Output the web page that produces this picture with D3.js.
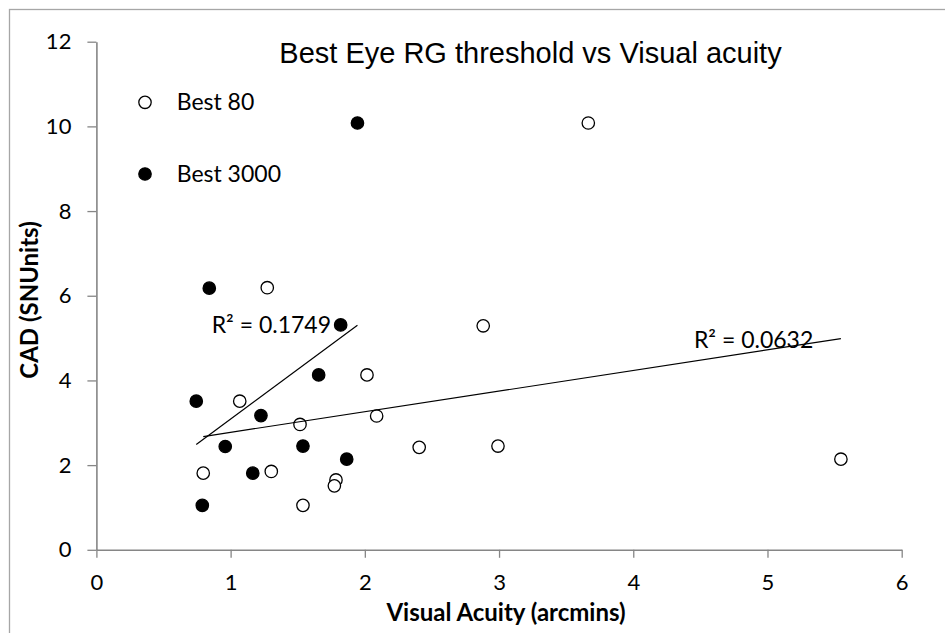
<!DOCTYPE html>
<html>
<head>
<meta charset="utf-8">
<script src="https://cdn.jsdelivr.net/npm/d3@7"></script>
<style>
  html, body { margin: 0; padding: 0; background: #fff; }
  svg { display: block; }
</style>
</head>
<body>
<svg id="chart" width="945" height="633"></svg>
<script>
// Best 80: visual acuity (arcmin) and chromatic threshold (CAD, SNU)
const best80Acuity = [3.665, 1.273, 2.882, 2.016, 1.068, 2.088, 1.517, 2.405, 2.992, 5.547, 0.796, 1.303, 1.785, 1.773, 1.539];
const best80CAD    = [10.08, 6.19, 5.29, 4.13, 3.51, 3.16, 2.96, 2.42, 2.45, 2.14, 1.81, 1.85, 1.65, 1.51, 1.05];

// Best 3000
const best3000Acuity = [1.945, 0.841, 1.820, 1.656, 0.744, 1.226, 0.960, 1.539, 1.865, 1.165, 0.789];
const best3000CAD    = [10.08, 6.18, 5.31, 4.13, 3.51, 3.17, 2.44, 2.45, 2.14, 1.81, 1.05];

const seriesNames = ["Best 80", "Best 3000"];
const rSquaredLabels = ["R² = 0.0632", "R² = 0.1749"];
const rSquaredAnchors = [[4.452, 4.773], [0.859, 5.12]]; // data-space text anchors

const xTicks = [0, 1, 2, 3, 4, 5, 6];
const yTicks = [0, 2, 4, 6, 8, 10, 12];

const title = "Best Eye RG threshold vs Visual acuity";
const xTitle = "Visual Acuity (arcmins)";
const yTitle = "CAD (SNUnits)";

const svg = d3.select("#chart");
const tickFont = "Lato, 'Open Sans', sans-serif";

// outer chart-area frame
svg.append("rect")
  .attr("x", 9.5).attr("y", 9.5)
  .attr("width", 960).attr("height", 660)
  .attr("fill", "#fff")
  .attr("stroke", "#a6a6a6")
  .attr("stroke-width", 1.3);

const x = d3.scaleLinear().domain([0, 6]).range([96.4, 901.7]);
const y = d3.scaleLinear().domain([0, 12]).range([549.8, 41.7]);

// axes
const xAxis = svg.append("g")
  .attr("transform", `translate(0,${y(0)})`)
  .call(d3.axisBottom(x).tickValues(xTicks).tickFormat(d3.format("d"))
    .tickSize(8).tickSizeOuter(0).tickPadding(17));
const yAxis = svg.append("g")
  .attr("transform", `translate(${x(0)},0)`)
  .call(d3.axisLeft(y).tickValues(yTicks).tickFormat(d3.format("d"))
    .tickSize(9).tickSizeOuter(0).tickPadding(16));

[xAxis, yAxis].forEach(g => {
  g.select(".domain").attr("stroke", "#868686").attr("stroke-width", 1.6);
  g.selectAll(".tick line").attr("stroke", "#868686").attr("stroke-width", 1.3);
  g.selectAll(".tick text")
    .attr("fill", "#000")
    .style("font-family", tickFont)
    .style("font-size", "22px");
});

// least-squares trend line over a series' own x range
function trend(xs, ys) {
  const mx = d3.mean(xs), my = d3.mean(ys);
  const sxy = d3.sum(xs, (v, i) => (v - mx) * (ys[i] - my));
  const sxx = d3.sum(xs, v => (v - mx) * (v - mx));
  const slope = sxy / sxx, icpt = my - slope * mx;
  const [x0, x1] = d3.extent(xs);
  return [[x0, icpt + slope * x0], [x1, icpt + slope * x1]];
}

const series = [
  { name: seriesNames[0], xs: best80Acuity, ys: best80CAD, fill: "#fff" },
  { name: seriesNames[1], xs: best3000Acuity, ys: best3000CAD, fill: "#000" }
];

const line = d3.line().x(d => x(d[0])).y(d => y(d[1]));

// markers
series.forEach(s => {
  svg.append("g").selectAll("circle")
    .data(s.xs.map((v, i) => [v, s.ys[i]]))
    .join("circle")
    .attr("cx", d => x(d[0]))
    .attr("cy", d => y(d[1]))
    .attr("r", 6.2)
    .attr("fill", s.fill)
    .attr("stroke", "#000")
    .attr("stroke-width", 1.3);
});

// trend lines
series.forEach(s => {
  svg.append("path")
    .attr("d", line(trend(s.xs, s.ys)))
    .attr("fill", "none")
    .attr("stroke", "#000")
    .attr("stroke-width", 1.2);
});

// R² labels
rSquaredLabels.forEach((t, i) => {
  svg.append("text")
    .attr("x", x(rSquaredAnchors[i][0]))
    .attr("y", y(rSquaredAnchors[i][1]))
    .style("font-family", tickFont)
    .style("font-size", "23px")
    .attr("fill", "#000")
    .text(t);
});

// title
svg.append("text")
  .attr("x", 530.5).attr("y", 63)
  .attr("text-anchor", "middle")
  .style("font-family", "'Liberation Sans', Arial, sans-serif")
  .style("font-size", "29px")
  .attr("fill", "#000")
  .text(title);

// axis titles
svg.append("text")
  .attr("x", 506).attr("y", 621)
  .attr("text-anchor", "middle")
  .style("font-family", tickFont)
  .style("font-weight", "bold")
  .style("font-size", "24px")
  .attr("fill", "#000")
  .text(xTitle);

svg.append("text")
  .attr("transform", "translate(38,300) rotate(-90)")
  .attr("text-anchor", "middle")
  .style("font-family", tickFont)
  .style("font-weight", "bold")
  .style("font-size", "24px")
  .attr("fill", "#000")
  .text(yTitle);

// legend
const legend = svg.append("g");
series.forEach((s, i) => {
  const cy = 102.3 + i * 71.7;
  legend.append("circle")
    .attr("cx", 145).attr("cy", cy).attr("r", 6.2)
    .attr("fill", s.fill).attr("stroke", "#000").attr("stroke-width", 1.3);
  legend.append("text")
    .attr("x", 176.7).attr("y", cy + 7.5)
    .style("font-family", tickFont)
    .style("font-size", "23px")
    .attr("fill", "#000")
    .text(s.name);
});
</script>
</body>
</html>
